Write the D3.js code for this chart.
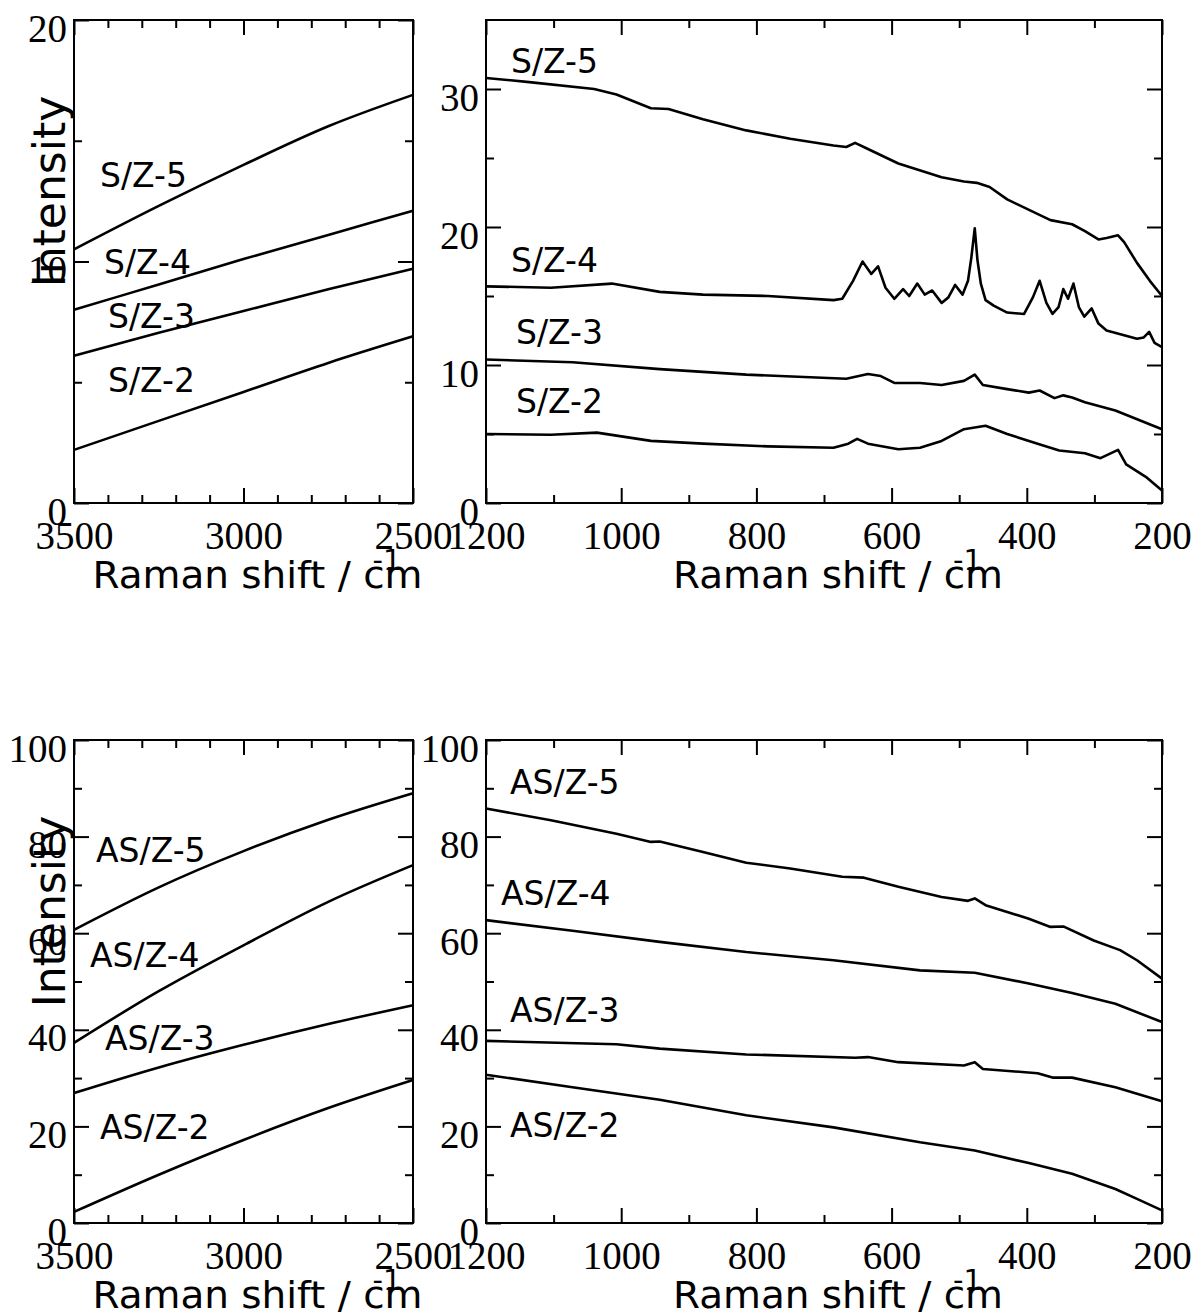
<!DOCTYPE html>
<html>
<head>
<meta charset="utf-8">
<script src="https://cdn.jsdelivr.net/npm/d3@7"></script>
<style>
  body { margin: 0; background: #fff; }
  .tick-label { font-family: "Liberation Serif", "Times New Roman", serif; font-size: 39px; fill: #000; }
  .sans { font-family: "DejaVu Sans", sans-serif; fill: #000; }
</style>
</head>
<body>
<div id="chart"></div>
<script>
// Raman spectra, [shift (cm-1), intensity]

// high-wavenumber region, 3500 -> 2500
const sz5High = [[3500, 10.5], [3250, 12.3], [3000, 14.0], [2750, 15.6], [2500, 16.9]];
const sz4High = [[3500, 8.0], [3250, 9.05], [3000, 10.1], [2750, 11.1], [2500, 12.1]];
const sz3High = [[3500, 6.1], [3250, 7.05], [3000, 7.95], [2750, 8.85], [2500, 9.7]];
const sz2High = [[3500, 2.2], [3250, 3.4], [3000, 4.6], [2750, 5.8], [2500, 6.9]];

const asz5High = [[3500, 60.7], [3250, 69.5], [3000, 77.0], [2750, 83.5], [2500, 89.0]];
const asz4High = [[3500, 37.3], [3250, 48.0], [3000, 57.5], [2750, 66.5], [2500, 74.1]];
const asz3High = [[3500, 26.9], [3250, 32.2], [3000, 36.9], [2750, 41.2], [2500, 45.1]];
const asz2High = [[3500, 2.3], [3250, 10.0], [3000, 17.2], [2750, 23.8], [2500, 29.6]];

// low-wavenumber region, 1200 -> 200
const sz5Low = [[1200, 30.8], [1136, 30.5], [1040, 30.0], [1007, 29.6], [956, 28.6], [930, 28.55],
  [879, 27.8], [815, 27.0], [750, 26.4], [686, 25.9], [667, 25.8], [654, 26.1], [635, 25.65],
  [590, 24.6], [526, 23.6], [493, 23.3], [474, 23.2], [455, 22.9], [429, 22.0], [365, 20.5],
  [333, 20.2], [314, 19.7], [294, 19.1], [282, 19.2], [265, 19.4], [256, 18.9], [237, 17.4],
  [218, 16.1], [200, 15.0]];
const sz4Low = [[1200, 15.7], [1104, 15.6], [1014, 15.9], [943, 15.3], [879, 15.1], [783, 15.0],
  [686, 14.7], [673, 14.8], [657, 16.1], [643, 17.5], [630, 16.6], [620, 17.15], [609, 15.6],
  [596, 14.8], [583, 15.5], [574, 15.0], [562, 15.9], [551, 15.1], [540, 15.4], [526, 14.5],
  [516, 14.9], [506, 15.8], [495, 15.1], [487, 16.1], [482, 17.8], [477, 19.9], [473, 17.6],
  [468, 15.9], [461, 14.7], [449, 14.3], [429, 13.8], [404, 13.7], [391, 14.9], [381, 16.1],
  [371, 14.5], [362, 13.7], [353, 14.2], [346, 15.5], [339, 14.8], [331, 15.9], [323, 14.2],
  [315, 13.5], [304, 14.1], [294, 13.0], [282, 12.5], [237, 11.9], [227, 12.0], [219, 12.4],
  [211, 11.6], [200, 11.3]];
const sz3Low = [[1200, 10.4], [1072, 10.2], [943, 9.7], [815, 9.3], [667, 9.0], [635, 9.35],
  [616, 9.2], [596, 8.7], [558, 8.7], [526, 8.55], [493, 8.85], [477, 9.3], [465, 8.55],
  [429, 8.25], [397, 8.0], [381, 8.15], [359, 7.6], [346, 7.8], [333, 7.65], [314, 7.3],
  [269, 6.7], [200, 5.35]];
const sz2Low = [[1200, 5.0], [1104, 4.95], [1036, 5.1], [956, 4.5], [879, 4.3], [783, 4.1],
  [686, 4.0], [664, 4.3], [651, 4.65], [635, 4.3], [590, 3.9], [558, 4.0], [526, 4.5],
  [493, 5.35], [461, 5.6], [429, 5.0], [384, 4.3], [352, 3.8], [314, 3.6], [291, 3.25],
  [265, 3.85], [253, 2.8], [224, 1.9], [200, 0.9]];

const asz5Low = [[1200, 85.8], [1104, 83.4], [1007, 80.6], [956, 78.9], [943, 79.0], [879, 76.8],
  [815, 74.6], [750, 73.4], [673, 71.7], [641, 71.5], [590, 69.6], [526, 67.5], [487, 66.7],
  [477, 67.2], [461, 65.8], [397, 63.0], [365, 61.3], [346, 61.4], [301, 58.5], [262, 56.5],
  [237, 54.4], [200, 50.6]];
const asz4Low = [[1200, 62.7], [1072, 60.5], [943, 58.2], [815, 56.1], [686, 54.4], [558, 52.3],
  [477, 51.8], [397, 49.6], [333, 47.6], [269, 45.4], [200, 41.6]];
const asz3Low = [[1200, 37.7], [1007, 37.0], [943, 36.1], [815, 34.9], [654, 34.2], [635, 34.35],
  [590, 33.3], [493, 32.6], [477, 33.3], [465, 31.9], [384, 31.0], [362, 30.1], [333, 30.1],
  [269, 28.1], [200, 25.2]];
const asz2Low = [[1200, 30.7], [1072, 28.1], [943, 25.5], [815, 22.3], [686, 19.8], [558, 16.7],
  [477, 15.0], [397, 12.4], [333, 10.2], [269, 7.05], [237, 5.0], [200, 2.6]];

// tick values and labels
const highMajor = [3500, 3000, 2500];
const highMinor = [3400, 3300, 3200, 3100, 2900, 2800, 2700, 2600];
const highLabels = ["3500", "3000", "2500"];
const lowMajor = [1200, 1000, 800, 600, 400, 200];
const lowMinor = [1100, 900, 700, 500, 300];
const lowLabels = ["1200", "1000", "800", "600", "400", "200"];

const szHighYMajor = [0, 10, 20], szHighYMinor = [5, 15];
const szLowYMajor = [0, 10, 20, 30], szLowYMinor = [5, 15, 25];
const aszYMajor = [0, 20, 40, 60, 80, 100], aszYMinor = [10, 30, 50, 70, 90];

const szNames = ["S/Z-5", "S/Z-4", "S/Z-3", "S/Z-2"];
const aszNames = ["AS/Z-5", "AS/Z-4", "AS/Z-3", "AS/Z-2"];

const width = 1195, height = 1316;
const svg = d3.select("#chart").append("svg")
  .attr("width", width)
  .attr("height", height);

const panels = [
  { left: 74, right: 413, top: 20, bottom: 503, xDomain: [3500, 2500], yDomain: [0, 20],
    xMajor: highMajor, xMinor: highMinor, xLabels: highLabels, yMajor: szHighYMajor, yMinor: szHighYMinor,
    series: [sz5High, sz4High, sz3High, sz2High], names: szNames,
    namePos: [[26, 167], [30, 254], [34, 308], [34, 372]], ylabel: true, curve: d3.curveMonotoneX },
  { left: 486, right: 1162, top: 20, bottom: 503, xDomain: [1200, 200], yDomain: [0, 35],
    xMajor: lowMajor, xMinor: lowMinor, xLabels: lowLabels, yMajor: szLowYMajor, yMinor: szLowYMinor,
    series: [sz5Low, sz4Low, sz3Low, sz2Low], names: szNames,
    namePos: [[25, 53], [25, 252], [30, 324], [30, 393]], ylabel: false, curve: d3.curveLinear },
  { left: 74, right: 413, top: 740, bottom: 1223, xDomain: [3500, 2500], yDomain: [0, 100],
    xMajor: highMajor, xMinor: highMinor, xLabels: highLabels, yMajor: aszYMajor, yMinor: aszYMinor,
    series: [asz5High, asz4High, asz3High, asz2High], names: aszNames,
    namePos: [[22, 122], [16, 227], [31, 310], [26, 399]], ylabel: true, curve: d3.curveMonotoneX },
  { left: 486, right: 1162, top: 740, bottom: 1223, xDomain: [1200, 200], yDomain: [0, 100],
    xMajor: lowMajor, xMinor: lowMinor, xLabels: lowLabels, yMajor: aszYMajor, yMinor: aszYMinor,
    series: [asz5Low, asz4Low, asz3Low, asz2Low], names: aszNames,
    namePos: [[24, 54], [15, 165], [24, 282], [24, 397]], ylabel: false, curve: d3.curveLinear }
];

const majorLen = 15, minorLen = 8;

function addAxis(axis, tx, ty) {
  const g = svg.append("g")
    .attr("transform", `translate(${tx},${ty})`)
    .call(axis);
  g.select(".domain").remove();
  g.selectAll(".tick line").attr("stroke", "#000").attr("stroke-width", 2);
  return g;
}

panels.forEach(p => {
  const x = d3.scaleLinear().domain(p.xDomain).range([p.left, p.right]);
  const y = d3.scaleLinear().domain(p.yDomain).range([p.bottom, p.top]);

  // spectra
  const line = d3.line()
    .x(d => x(d[0]))
    .y(d => y(d[1]))
    .curve(p.curve);
  p.series.forEach(s => {
    svg.append("path")
      .datum(s)
      .attr("d", line)
      .attr("fill", "none")
      .attr("stroke", "#000")
      .attr("stroke-width", 2.6)
      .attr("stroke-linejoin", "round");
  });

  // frame
  svg.append("rect")
    .attr("x", p.left).attr("y", p.top)
    .attr("width", p.right - p.left).attr("height", p.bottom - p.top)
    .attr("fill", "none").attr("stroke", "#000").attr("stroke-width", 2);

  // ticks point inward on all four sides
  addAxis(d3.axisBottom(x).tickValues(p.xMinor).tickSizeInner(-minorLen).tickSizeOuter(0).tickFormat(""), 0, p.bottom);
  addAxis(d3.axisTop(x).tickValues(p.xMinor).tickSizeInner(-minorLen).tickSizeOuter(0).tickFormat(""), 0, p.top);
  addAxis(d3.axisTop(x).tickValues(p.xMajor).tickSizeInner(-majorLen).tickSizeOuter(0).tickFormat(""), 0, p.top);
  const xg = addAxis(d3.axisBottom(x).tickValues(p.xMajor).tickSizeInner(-majorLen).tickSizeOuter(0)
    .tickFormat((d, i) => p.xLabels[i]), 0, p.bottom);
  xg.selectAll("text")
    .attr("class", "tick-label")
    .attr("y", 46)
    .attr("dy", 0);

  addAxis(d3.axisLeft(y).tickValues(p.yMinor).tickSizeInner(-minorLen).tickSizeOuter(0).tickFormat(""), p.left, 0);
  addAxis(d3.axisRight(y).tickValues(p.yMinor).tickSizeInner(-minorLen).tickSizeOuter(0).tickFormat(""), p.right, 0);
  addAxis(d3.axisRight(y).tickValues(p.yMajor).tickSizeInner(-majorLen).tickSizeOuter(0).tickFormat(""), p.right, 0);
  const yg = addAxis(d3.axisLeft(y).tickValues(p.yMajor).tickSizeInner(-majorLen).tickSizeOuter(0)
    .tickFormat(d3.format("d")), p.left, 0);
  yg.selectAll("text")
    .attr("class", "tick-label")
    .attr("x", -7)
    .attr("dy", 0)
    .attr("y", 21);

  // series names
  p.names.forEach((n, i) => {
    svg.append("text")
      .attr("class", "sans")
      .attr("x", p.left + p.namePos[i][0])
      .attr("y", p.top + p.namePos[i][1])
      .style("font-size", "33px")
      .text(n);
  });

  // x title, with the misplaced -1 superscript as in the original
  const cx = (p.left + p.right) / 2 + 14;
  svg.append("text")
    .attr("class", "sans")
    .attr("x", cx)
    .attr("y", p.bottom + 85)
    .attr("text-anchor", "middle")
    .attr("textLength", 330)
    .attr("lengthAdjust", "spacingAndGlyphs")
    .style("font-size", "38px")
    .text("Raman shift / cm");
  svg.append("text")
    .attr("class", "sans")
    .attr("x", cx - 165 + 280)
    .attr("y", p.bottom + 67)
    .style("font-size", "29px")
    .text("-1");

  if (p.ylabel) {
    svg.append("text")
      .attr("class", "sans")
      .attr("transform", `translate(65,${(p.top + p.bottom) / 2 - 70}) rotate(-90)`)
      .attr("text-anchor", "middle")
      .style("font-size", "44px")
      .text("Intensity");
  }
});
</script>
</body>
</html>
